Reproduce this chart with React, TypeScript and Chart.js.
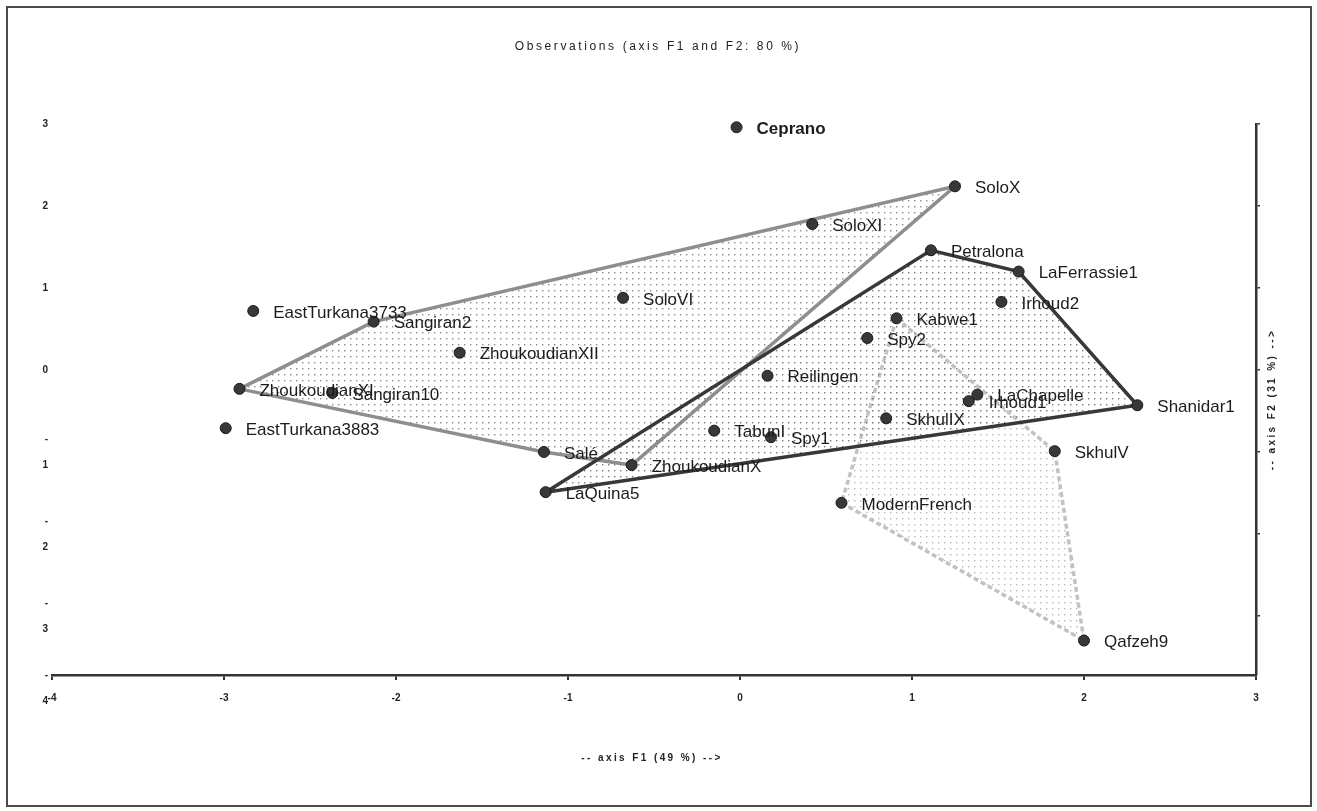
import React, { useEffect, useRef } from 'react';
import { Chart, registerables } from 'chart.js';

Chart.register(...registerables);

// ---- data ----
const names = [
  'Ceprano', 'SoloX', 'SoloXI', 'Petralona', 'LaFerrassie1', 'Irhoud2', 'Kabwe1', 'Spy2',
  'SoloVI', 'EastTurkana3733', 'Sangiran2', 'ZhoukoudianXII', 'ZhoukoudianXI', 'Sangiran10',
  'EastTurkana3883', 'Reilingen', 'LaChapelle', 'Irhoud1', 'Shanidar1', 'SkhulIX', 'TabunI',
  'Spy1', 'SkhulV', 'Salé', 'ZhoukoudianX', 'LaQuina5', 'ModernFrench', 'Qafzeh9',
];
const f1 = [
  -0.02, 1.25, 0.42, 1.11, 1.62, 1.52, 0.91, 0.74,
  -0.68, -2.83, -2.13, -1.63, -2.91, -2.37,
  -2.99, 0.16, 1.38, 1.33, 2.31, 0.85, -0.15,
  0.18, 1.83, -1.14, -0.63, -1.13, 0.59, 2.0,
];
const f2 = [
  2.96, 2.24, 1.78, 1.46, 1.2, 0.83, 0.63, 0.39,
  0.88, 0.72, 0.59, 0.21, -0.23, -0.28,
  -0.71, -0.07, -0.3, -0.38, -0.43, -0.59, -0.74,
  -0.82, -0.99, -1.0, -1.16, -1.49, -1.62, -3.3,
];
const boldNames = ['Ceprano'];

const hullGray = ['ZhoukoudianXI', 'Sangiran2', 'SoloX', 'ZhoukoudianX', 'Salé'];
const hullDark = ['LaQuina5', 'Petralona', 'LaFerrassie1', 'Shanidar1'];
const hullLight = ['Kabwe1', 'SkhulV', 'Qafzeh9', 'ModernFrench'];

const xTicks = [-4, -3, -2, -1, 0, 1, 2, 3];
const yTicks = [-4, -3, -2, -1, 0, 1, 2, 3];
const xMin = -4;
const xMax = 3;
const yMin = -3.72;
const yMax = 3;

const chartTitle = 'Observations (axis F1 and F2: 80 %)';
const xTitle = '-- axis F1 (49 %) -->';
const yTitle = '-- axis F2 (31 %) -->';

const FONT = '"Liberation Sans", Arial, sans-serif';

function pt(name: string) {
  const i = names.indexOf(name);
  return { x: f1[i], y: f2[i] };
}
function closed(list: string[]) {
  const pts = list.map(pt);
  return [...pts, pts[0]];
}
function dots(color: string, step: number): CanvasPattern | string {
  const c = document.createElement('canvas');
  c.width = step;
  c.height = step;
  const g = c.getContext('2d');
  if (!g) return 'transparent';
  g.fillStyle = color;
  g.fillRect(0, 0, 1.4, 1.4);
  return g.createPattern(c, 'repeat') || 'transparent';
}

export default function App() {
  const ref = useRef<HTMLCanvasElement | null>(null);

  useEffect(() => {
    if (!ref.current) return;

    const textPlugin = {
      id: 'texts',
      afterDatasetsDraw(chart: any) {
        const { ctx, chartArea } = chart;
        const xs = chart.scales.x;
        const ys = chart.scales.y;
        ctx.save();
        ctx.textBaseline = 'middle';
        ctx.textAlign = 'left';
        ctx.fillStyle = '#1c1c1c';
        names.forEach((n, i) => {
          const bold = boldNames.includes(n);
          ctx.font = (bold ? 'bold ' : '') + '17px ' + FONT;
          ctx.fillText(n, xs.getPixelForValue(f1[i]) + 20, ys.getPixelForValue(f2[i]) + 2);
        });
        ctx.restore();

        const cx = (chartArea.left + chartArea.right) / 2;
        const cy = (chartArea.top + chartArea.bottom) / 2;

        ctx.save();
        ctx.textAlign = 'center';
        ctx.textBaseline = 'middle';
        ctx.fillStyle = '#222';
        ctx.font = '12px ' + FONT;
        (ctx as any).letterSpacing = '2.6px';
        ctx.fillText(chartTitle, cx + 4, 39);
        ctx.font = 'bold 10px ' + FONT;
        (ctx as any).letterSpacing = '2.4px';
        ctx.fillText(xTitle, cx - 2, chartArea.bottom + 83);
        ctx.translate(chartArea.right + 16, cy);
        ctx.rotate(-Math.PI / 2);
        ctx.fillText(yTitle, 0, 0);
        ctx.restore();
      },
    };

    const hullDs = (list: string[], color: string, fillColor: string, dash: number[], order: number) => ({
      type: 'line' as const,
      data: closed(list),
      borderColor: color,
      borderWidth: 3.5,
      borderDash: dash,
      backgroundColor: dots(fillColor, 6),
      fill: 'shape',
      pointRadius: 0,
      tension: 0,
      order,
    });

    const chart = new Chart(ref.current, {
      type: 'scatter',
      data: {
        datasets: [
          {
            type: 'scatter',
            data: names.map((_, i) => ({ x: f1[i], y: f2[i] })),
            pointRadius: 5.5,
            pointBackgroundColor: '#383838',
            pointBorderColor: '#1a1a1a',
            pointBorderWidth: 1,
            clip: false,
            order: 0,
          } as any,
          hullDs(hullDark, '#383838', '#7a7a7a', [], 1) as any,
          hullDs(hullGray, '#8e8e8e', '#8a8a8a', [], 2) as any,
          hullDs(hullLight, '#c2c2c2', '#b8b8b8', [5, 3], 3) as any,
        ],
      },
      options: {
        animation: false,
        responsive: true,
        maintainAspectRatio: false,
        layout: { padding: { top: 116, left: 0, right: 0, bottom: 0 } },
        plugins: {
          legend: { display: false },
          tooltip: { enabled: false },
          title: { display: false },
        },
        scales: {
          x: {
            type: 'linear',
            position: 'bottom',
            min: xMin,
            max: xMax,
            afterBuildTicks: (s: any) => {
              s.ticks = xTicks.map((v) => ({ value: v }));
            },
            afterFit: (s: any) => {
              s.height = 130;
            },
            border: { display: true, color: '#333', width: 2.5 },
            grid: { drawOnChartArea: false, drawTicks: true, tickLength: 5, color: '#333', lineWidth: 2 },
            ticks: {
              autoSkip: false,
              padding: 12,
              color: '#222',
              font: { size: 10, weight: 'bold', family: FONT },
              callback: (v: any) => String(v),
            },
          },
          y: {
            type: 'linear',
            position: 'left',
            min: yMin,
            max: yMax,
            afterBuildTicks: (s: any) => {
              s.ticks = yTicks.map((v) => ({ value: Math.max(v, yMin) }));
            },
            afterFit: (s: any) => {
              s.width = 44;
            },
            border: { display: false },
            grid: { display: false, drawTicks: false },
            ticks: {
              autoSkip: false,
              padding: 4,
              color: '#222',
              font: { size: 10, weight: 'bold', family: FONT, lineHeight: 2.6 },
              callback: (_v: any, idx: number) => {
                const t = yTicks[idx];
                if (t <= -4) return ['', '-', String(-t)];
                return t < 0 ? ['-', String(-t)] : String(t);
              },
            },
          },
          y2: {
            type: 'linear',
            position: 'right',
            min: yMin,
            max: yMax,
            afterBuildTicks: (s: any) => {
              s.ticks = yTicks.filter((v) => v >= yMin).map((v) => ({ value: v }));
            },
            afterFit: (s: any) => {
              s.width = 54;
            },
            border: { display: true, color: '#333', width: 2.5 },
            grid: { drawOnChartArea: false, drawTicks: true, tickLength: 4, color: '#333', lineWidth: 1.5 },
            ticks: { display: false },
          },
        },
      } as any,
      plugins: [textPlugin],
    });

    return () => chart.destroy();
  }, []);

  return (
    <div
      style={{
        position: 'absolute',
        left: 6,
        top: 6,
        width: 1306,
        height: 801,
        border: '2px solid #4a4a4a',
        boxSizing: 'border-box',
        background: '#fff',
      }}
    >
      <div style={{ position: 'relative', width: '100%', height: '100%' }}>
        <canvas ref={ref} />
      </div>
    </div>
  );
}
